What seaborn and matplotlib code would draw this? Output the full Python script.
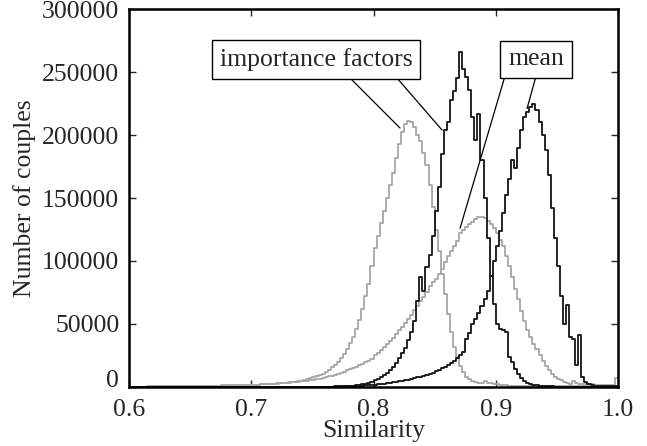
import numpy as np
import pandas as pd
import matplotlib
matplotlib.use("Agg")
import matplotlib.pyplot as plt
import matplotlib.transforms as mtransforms
import seaborn as sns

# ---------------- data (counts per similarity bin of width 0.0025, 0.6 -> 1.0) ----------------
sim_min, sim_max, bin_width = 0.6, 1.0, 0.0025

imp_gray = [
    200, 200, 250, 250, 300, 300, 350, 350, 400, 400,
    450, 450, 500, 500, 550, 600, 600, 650, 700, 700,
    750, 800, 800, 850, 900, 950, 1000, 1000, 1100, 1100,
    1200, 1200, 1300, 1300, 1400, 1400, 1500, 1500, 1600, 1600,
    1700, 1800, 1900, 2000, 2100, 2300, 2400, 2600, 2800, 3000,
    3200, 3400, 3700, 4000, 4300, 4700, 5100, 5600, 6200, 6900,
    7600, 8500, 9500, 10700, 12000, 13500, 15500, 17500, 20000, 23000,
    26000, 30000, 35000, 40000, 46000, 53000, 62000, 72000, 82000, 96000,
    110000, 120000, 130000, 140000, 150000, 160000, 170000, 182000, 193000, 202000,
    209000, 211000, 210000, 206000, 200000, 195000, 186000, 176000, 160000, 143000,
    125000, 108000, 90000, 74000, 58000, 44000, 32000, 24000, 17000, 12000,
    8000, 6000, 5000, 4000, 3500, 3000, 4500, 3000, 3500, 2500,
    2000, 1800, 1500, 1200, 1000, 900, 800, 700, 600, 600,
    500, 500, 500, 500, 500, 500, 500, 500, 500, 500,
    450, 450, 450, 450, 450, 400, 400, 400, 400, 400,
    400, 400, 400, 400, 400, 400, 400, 400, 400, 400,
]

imp_black = [
    100, 100, 100, 100, 100, 100, 100, 100, 100, 100,
    100, 100, 100, 100, 100, 100, 100, 100, 100, 100,
    100, 100, 100, 100, 100, 100, 100, 100, 100, 100,
    100, 100, 100, 100, 100, 100, 100, 100, 100, 100,
    100, 100, 100, 100, 100, 100, 100, 100, 100, 100,
    100, 100, 100, 100, 100, 100, 100, 100, 100, 100,
    200, 220, 250, 280, 300, 330, 360, 400, 450, 500,
    600, 750, 900, 1100, 1300, 1600, 2000, 2400, 3000, 3600,
    5500, 6500, 8000, 9500, 11500, 13500, 16000, 19000, 23000, 27000,
    31000, 37000, 44000, 52000, 68000, 87000, 76000, 95000, 105000, 120000,
    140000, 159000, 185000, 204000, 210000, 228000, 235000, 245000, 266000, 252000,
    246000, 236000, 214000, 196000, 217000, 180000, 150000, 118000, 88000, 66000,
    50000, 46000, 45000, 44000, 24000, 20000, 14000, 10000, 7000, 5000,
    3500, 2500, 1800, 1300, 1000, 800, 600, 500, 400, 350,
    300, 300, 250, 250, 200, 200, 200, 150, 150, 150,
    100, 100, 100, 100, 100, 100, 100, 100, 100, 100,
]

mean_gray = [
    300, 300, 300, 350, 350, 350, 400, 400, 400, 450,
    450, 450, 500, 500, 550, 550, 600, 600, 650, 650,
    700, 700, 750, 800, 800, 850, 900, 900, 950, 1000,
    1050, 1100, 1150, 1200, 1250, 1300, 1400, 1450, 1500, 1600,
    1700, 1800, 1900, 2000, 2100, 2250, 2400, 2550, 2700, 2900,
    3100, 3300, 3500, 3700, 3900, 4200, 4500, 4800, 5100, 5400,
    5800, 6200, 6700, 7200, 7800, 8400, 9000, 9700, 10500, 11300,
    12200, 13100, 14000, 15000, 16000, 17200, 18400, 19700, 21000, 22500,
    25000, 27000, 29000, 31500, 34000, 36500, 39000, 42000, 45000, 48000,
    51000, 54000, 57500, 61000, 64500, 68000, 71500, 75000, 80000, 83000,
    86000, 90000, 94000, 99000, 104000, 108000, 112000, 116000, 122000, 125000,
    127000, 129000, 131000, 133000, 135000, 135000, 134000, 132000, 129000, 126000,
    122000, 117000, 112000, 104000, 96000, 87000, 78000, 70000, 60000, 52000,
    45000, 40000, 34000, 30000, 25000, 21000, 17000, 13500, 10500, 8000,
    6500, 5500, 4000, 3000, 2500, 5000, 3000, 2500, 2000, 2500,
    2000, 2000, 1800, 1800, 1700, 1600, 1600, 1500, 1500, 7000,
]

mean_black = [
    100, 100, 100, 100, 100, 100, 100, 100, 100, 100,
    100, 100, 100, 100, 100, 100, 100, 100, 100, 100,
    100, 100, 100, 100, 100, 100, 100, 100, 100, 100,
    100, 100, 100, 100, 100, 100, 100, 100, 100, 100,
    100, 100, 100, 100, 100, 100, 100, 100, 100, 100,
    100, 100, 100, 100, 100, 100, 100, 100, 100, 100,
    100, 120, 140, 160, 180, 200, 230, 260, 300, 350,
    400, 450, 500, 600, 700, 800, 1000, 1200, 1400, 1600,
    1800, 2000, 2300, 2600, 2900, 3200, 3600, 4000, 4400, 4900,
    5400, 5900, 6400, 7000, 7600, 8300, 9000, 9800, 10600, 11500,
    12500, 13600, 14800, 16000, 17500, 19000, 21000, 23000, 25500, 28000,
    38000, 43000, 50000, 54000, 59000, 64000, 70000, 76000, 88000, 100000,
    112000, 124000, 138000, 152000, 165000, 180000, 174000, 190000, 204000, 214000,
    218000, 222000, 225000, 220000, 210000, 200000, 188000, 168000, 142000, 118000,
    96000, 72000, 50000, 65000, 40000, 38000, 17500, 41000, 8000, 4000,
    2000, 1200, 900, 700, 600, 500, 450, 400, 400, 400,
]

x_ticks = [0.6, 0.7, 0.8, 0.9, 1.0]
x_tick_labels = ["0.6", "0.7", "0.8", "0.9", "1.0"]
y_ticks = [0, 50000, 100000, 150000, 200000, 250000, 300000]
y_tick_labels = ["0", "50000", "100000", "150000", "200000", "250000", "300000"]

# ---------------- figure ----------------
sns.set_style("white")
plt.rcParams["font.family"] = ["Liberation Serif", "DejaVu Serif"]

n_bins = len(imp_gray)
centers = sim_min + bin_width * (np.arange(n_bins) + 0.5)

fig = plt.figure(figsize=(6.47, 4.46), dpi=100)
ax = fig.add_axes([0.1994, 0.1323, 0.9552 - 0.1994, 0.9798 - 0.1323])

series = [
    (imp_gray, "#a6a6a6"),
    (mean_gray, "#a6a6a6"),
    (imp_black, "#141414"),
    (mean_black, "#141414"),
]
for vals, col in series:
    df = pd.DataFrame({"sim": centers, "n": np.asarray(vals, dtype=float)})
    sns.histplot(data=df, x="sim", weights="n", binwidth=bin_width,
                 binrange=(sim_min, sim_max), element="step",
                 fill=False, color=col, linewidth=1.3, ax=ax)

ax.set_xlim(sim_min, sim_max)
ax.set_ylim(0, 300000)
ax.set_xticks(x_ticks)
ax.set_xticklabels(x_tick_labels)
ax.set_yticks(y_ticks)
ax.set_yticklabels(y_tick_labels)
ax.tick_params(direction="in", length=5, width=1.0, labelsize=18.5,
               top=True, right=True, bottom=True, left=True, pad=7)
ax.tick_params(axis="x", pad=9)
for s in ax.spines.values():
    s.set_linewidth(1.8)
    s.set_color("black")
    s.set_visible(True)

# lift the "0" label slightly, as in the reference
lbl0 = ax.get_yticklabels()[0]
lbl0.set_transform(lbl0.get_transform() + mtransforms.ScaledTranslation(0, 8 / 100, fig.dpi_scale_trans))

ax.set_xlabel("Similarity", fontsize=18.5, labelpad=-1)
ax.set_ylabel("Number of couples", fontsize=18.5, labelpad=4)

box = dict(boxstyle="square,pad=0.3", facecolor="white", edgecolor="black", linewidth=1.0)
ax.text(0.753, 260000, "importance factors", fontsize=18.5, ha="center", va="center", bbox=box, zorder=5)
ax.text(0.933, 260000, "mean", fontsize=18.5, ha="center", va="center", bbox=box, zorder=5)

lp = dict(arrowstyle="-", color="black", linewidth=0.9, shrinkA=0, shrinkB=0)
ax.annotate("", xy=(0.8217, 205500), xytext=(0.779, 247000), arrowprops=lp)
ax.annotate("", xy=(0.856, 204000), xytext=(0.8176, 247000), arrowprops=lp)
ax.annotate("", xy=(0.8708, 126000), xytext=(0.9076, 247000), arrowprops=lp)
ax.annotate("", xy=(0.9256, 221000), xytext=(0.933, 247000), arrowprops=lp)

fig.savefig("out.png", dpi=100)
